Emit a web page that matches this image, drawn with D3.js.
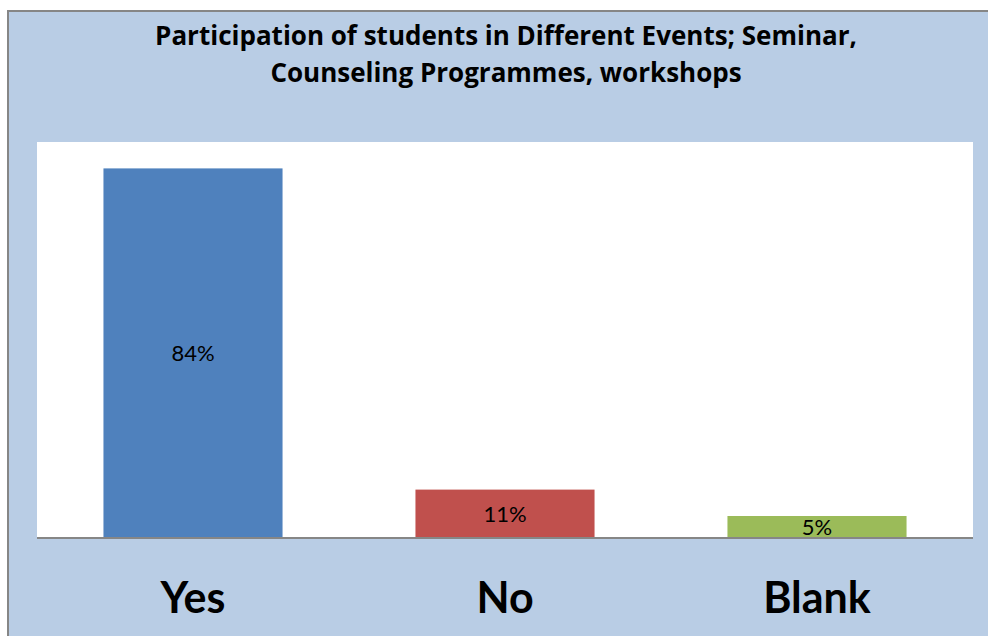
<!DOCTYPE html>
<html><head><meta charset="utf-8">
<script src="https://cdn.jsdelivr.net/npm/d3@7"></script>
<style>html,body{margin:0;padding:0;background:#fff;}svg{display:block;}</style>
</head><body>
<script>
const categories = ["Yes", "No", "Blank"];
const values = [84, 11, 5];
const labels = ["84%", "11%", "5%"];
const colors = ["#4F81BD", "#C0504D", "#9BBB59"];
const titleLines = ["Participation of students in Different Events; Seminar,", "Counseling Programmes, workshops"];

const W = 988, H = 636;
const svg = d3.select("body").append("svg").attr("width", W).attr("height", H);

svg.append("rect").attr("x", 8).attr("y", 11).attr("width", W - 8 + 5).attr("height", H - 11 + 5)
  .attr("fill", "#B9CDE5").attr("stroke", "#868686").attr("stroke-width", 2);

const plot = {x0: 37, x1: 973, y0: 142, y1: 538};
svg.append("rect").attr("x", plot.x0).attr("y", plot.y0)
  .attr("width", plot.x1 - plot.x0).attr("height", plot.y1 - plot.y0).attr("fill", "#fff");

const x = d3.scaleBand().domain(categories).range([plot.x0, plot.x1]).paddingInner(0.426).paddingOuter(0.213);
const y = d3.scaleLinear().domain([0, 90]).range([plot.y1, plot.y0]);

const font = "Lato, 'Open Sans', sans-serif";

svg.selectAll("rect.bar").data(values).enter().append("rect").attr("class", "bar")
  .attr("x", (d, i) => x(categories[i])).attr("width", x.bandwidth())
  .attr("y", d => y(d)).attr("height", d => y(0) - y(d))
  .attr("fill", (d, i) => colors[i]);

svg.selectAll("text.dl").data(values).enter().append("text").attr("class", "dl")
  .attr("x", (d, i) => x(categories[i]) + x.bandwidth() / 2)
  .attr("y", d => (y(d) + y(0)) / 2).attr("dy", "0.36em")
  .attr("text-anchor", "middle").attr("font-family", font).attr("font-size", 22).attr("fill", "#000")
  .text((d, i) => labels[i]);

const xAxis = svg.append("g").attr("transform", `translate(0,${plot.y1})`)
  .call(d3.axisBottom(x).tickSize(0).tickPadding(0));
xAxis.select(".domain").attr("stroke", "#868686").attr("stroke-width", 2)
  .attr("d", `M${plot.x0},0H${plot.x1}`);
xAxis.selectAll("text").attr("font-family", font).attr("font-weight", "bold")
  .attr("font-size", 43).attr("fill", "#000").attr("dy", null).attr("y", 75);

svg.append("g").selectAll("text").data(titleLines).enter().append("text")
  .attr("x", 506).attr("y", (d, i) => 45 + i * 37)
  .attr("text-anchor", "middle").attr("font-family", "'Open Sans', Lato, sans-serif").attr("font-weight", "bold")
  .attr("font-size", 26).attr("fill", "#000").text(d => d);
</script>
</body></html>
